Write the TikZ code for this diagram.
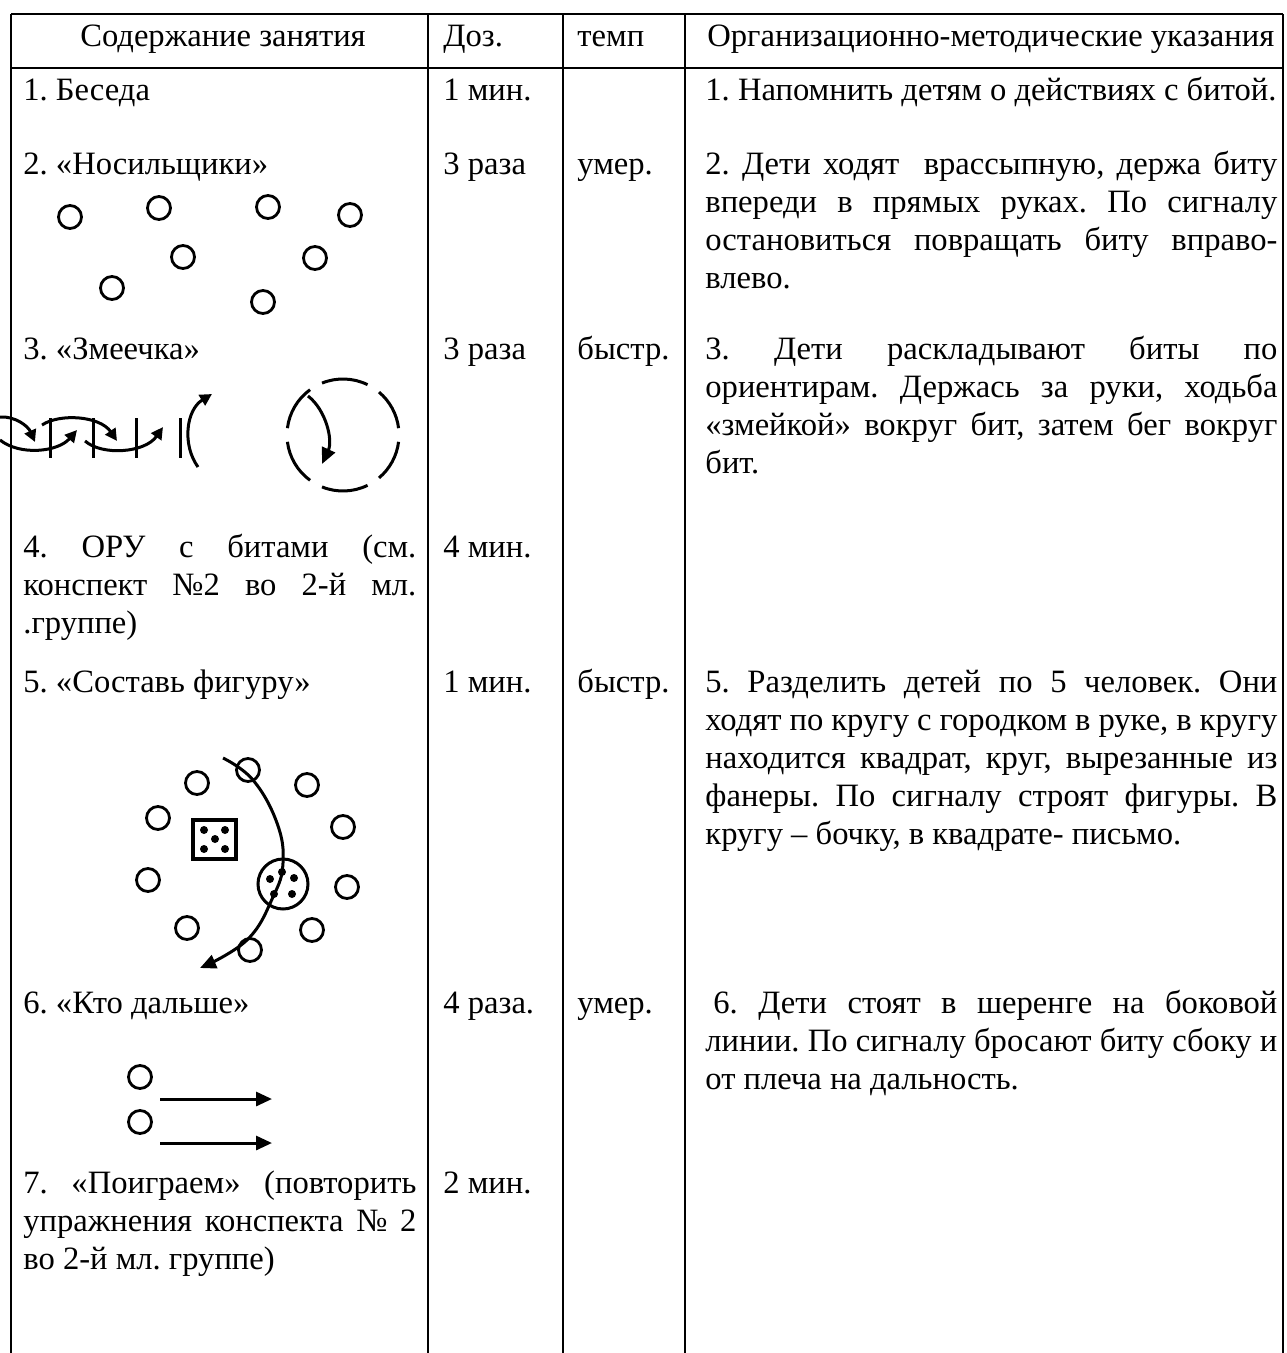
\documentclass[tikz,border=0pt]{standalone}
\usepackage{fontspec}
\setmainfont{Liberation Serif}
\usetikzlibrary{arrows.meta}

\tikzset{
  tabline/.style={line width=1pt},
  txt/.style={anchor=base west, inner sep=0pt},
  para/.style={txt, text width=#1, align=justify},
  kid/.style={circle, draw, line width=1.4pt, minimum size=11.5pt, inner sep=0pt},
  pip/.style={circle, fill, minimum size=4pt, inner sep=0pt},
  walk/.style={line width=1.5pt, -{Triangle[length=8pt,width=7pt]}},
  braid/.style={line width=1.5pt, -{Triangle[length=6pt,width=6pt]}},
}
\newcommand{\jr}[1]{\makebox[286pt][s]{\spaceskip=0pt\xspaceskip=0pt\relax #1}}
\newcommand{\jl}[1]{\makebox[196.5pt][s]{\spaceskip=0pt\xspaceskip=0pt\relax #1}}

\begin{document}
\frenchspacing
\begin{tikzpicture}[x=0.5pt, y=-0.5pt, font=\fontsize{16.3}{19}\selectfont\frenchspacing]
    \useasboundingbox (0,0) rectangle (1286,1353);
    % table frame
    \draw[tabline] (11,14) -- (1283,14);
    \draw[tabline] (11,68) -- (1283,68);
    \foreach \x in {11,428,563,685,1283}
        \draw[tabline] (\x,14) -- (\x,1353);

    % header
    \node[txt, anchor=base] (hd1) at (223,47) {Содержание занятия};
    \node[txt] (hd2) at (443,47) {Доз.};
    \node[txt] (hd3) at (577,47) {темп};
    \node[txt] (hd4) at (707,47) {Организационно-методические указания};

    % 1
    \node[txt] (a1) at (23,101) {1. Беседа};
    \node[txt] (d1) at (443,101) {1 мин.};
    \node[txt] (n1) at (705,101) {1. Напомнить детям о действиях с битой.};

    % 2
    \node[txt] (a2) at (23,175) {2. «Носильщики»};
    \node[txt] (d2) at (443,175) {3 раза};
    \node[txt] (t2) at (577,175) {умер.};
    \node[para=286pt] (n2) at (705,175) {\jr{2. Дети ходят\ \ врассыпную, держа биту}\\
        \jr{впереди в прямых руках. По сигналу}\\
        \jr{остановиться повращать биту вправо-}\\
        влево.};
    \foreach \p [count=\i] in {(70,217),(159,208),(268,207),(350,215),(183,257),(315,258),(112,288),(263,302)}
        \node[kid] (k\i) at \p {};

    % 3
    \node[txt] (a3) at (23,359) {3. «Змеечка»};
    \node[txt] (d3) at (443,359) {3 раза};
    \node[txt] (t3) at (577,359) {быстр.};
    \node[para=286pt] (n3) at (705,359) {\jr{3. Дети раскладывают биты по}\\
        \jr{ориентирам. Держась за руки, ходьба}\\
        \jr{«змейкой» вокруг бит, затем бег вокруг}\\
        бит.};
    \foreach \x in {50,93,136,180}
        \draw[line width=1.5pt] (\x,418) -- (\x,458);
    \draw[braid] (0,417) .. controls (15,416) and (28,426) .. (35,442);
    \draw[braid] (0,440) .. controls (20,456) and (58,452) .. (77,430);
    \draw[braid] (42,425) .. controls (60,413) and (100,416) .. (117,441);
    \draw[braid] (85,441) .. controls (102,456) and (145,453) .. (163,427);
    \draw[braid] (198,467) .. controls (182,445) and (186,410) .. (212,394);
    \foreach \a/\b in {7/50,64/112,126/173,187/234,248/296,310/353}
        \draw[line width=1.5pt] ([shift={(\a:56)}]343,435) arc[start angle=\a, end angle=\b, radius=56];
    \draw[walk] (308,396) .. controls (326,410) and (333,440) .. (322,464);

    % 4
    \node[para=196.5pt] (a4) at (23,557) {\jl{4. ОРУ с битами (см.}\\
        \jl{конспект №2 во 2-й мл.}\\
        .группе)};
    \node[txt] (d4) at (443,557) {4 мин.};

    % 5
    \node[txt] (a5) at (23,692) {5. «Составь фигуру»};
    \node[txt] (d5) at (443,692) {1 мин.};
    \node[txt] (t5) at (577,692) {быстр.};
    \node[para=286pt] (n5) at (705,692) {\jr{5. Разделить детей по 5 человек. Они}\\
        \jr{ходят по кругу с городком в руке, в кругу}\\
        \jr{находится квадрат, круг, вырезанные из}\\
        \jr{фанеры. По сигналу строят фигуры. В}\\
        кругу – бочку, в квадрате- письмо.};
    \foreach \p [count=\i] in {(248,770),(307,785),(197,783),(158,818),(343,827),(148,880),(347,887),(187,928),(312,930),(250,950)}
        \node[kid] (r\i) at \p {};
    \node[draw, line width=2pt, minimum width=21.5pt, minimum height=19.5pt, inner sep=0pt] (box) at (214.5,839.5) {};
    \foreach \p [count=\i] in {(204,830),(225,830),(215,839),(204,849),(225,849)}
        \node[pip] (s\i) at \p {};
    \node[circle, draw, line width=1.5pt, minimum size=25pt, inner sep=0pt] (barrel) at (283,884) {};
    \foreach \p [count=\i] in {(270,879),(282,872),(294,878),(274,894),(292,894)}
        \node[pip] (b\i) at \p {};
    \draw[walk] plot[smooth, tension=0.7] coordinates {(223,758) (253,780) (277,823) (283,863) (273,897) (247,940) (200,968)};

    % 6
    \node[txt] (a6) at (23,1013) {6. «Кто дальше»};
    \node[txt] (d6) at (443,1013) {4 раза.};
    \node[txt] (t6) at (577,1013) {умер.};
    \node[para=286pt] (n6) at (705,1013) {\jr{\hspace{4pt}6. Дети стоят в шеренге на боковой}\\
        \jr{линии. По сигналу бросают биту сбоку и}\\
        от плеча на дальность.};
    \node[kid] (p1) at (140,1077) {};
    \node[kid] (p2) at (140,1122) {};
    \coordinate (f1a) at (160,1099);
    \coordinate (f1b) at (272,1099);
    \coordinate (f2a) at (160,1143);
    \coordinate (f2b) at (272,1143);
    \draw[walk] (f1a) -- (f1b);
    \draw[walk] (f2a) -- (f2b);

    % 7
    \node[para=196.5pt] (a7) at (23,1193) {\jl{7. «Поиграем» (повторить}\\
        \jl{упражнения конспекта № 2}\\
        во 2-й мл. группе)};
    \node[txt] (d7) at (443,1193) {2 мин.};
\end{tikzpicture}
\end{document}
